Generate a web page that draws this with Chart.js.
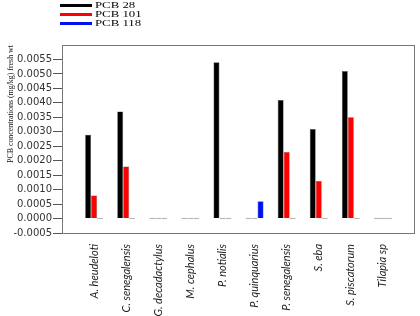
<!DOCTYPE html>
<html lang="en">
<head>
<meta charset="UTF-8">
<title>PCB concentrations</title>
<script src="https://cdn.jsdelivr.net/npm/chart.js"></script>
<style>
    body { margin: 0; background: #fff; }
    .wrap { position: relative; width: 420px; height: 316px; }
    .legend { position: absolute; left: 60px; top: 1px; font-family: "Liberation Serif", serif; font-size: 8px; }
    .legend .row { display: flex; align-items: center; height: 9px; }
    .legend .line { width: 32px; height: 3px; margin-right: 3px; }
    .legend .txt { display: inline-block; transform: scaleX(1.6); transform-origin: left center; }
</style>
</head>
<body>
<div class="wrap">
    <canvas id="pcbChart" width="420" height="316"></canvas>
    <div class="legend" id="legend"></div>
</div>
<script>
    const categories = ['A. heudeloti', 'C. senegalensis', 'G. decadactylus', 'M. cephalus', 'P. notialis',
        'P. quinquarius', 'P. senegalensis', 'S. eba', 'S. piscatorum', 'Tilapia sp'];
    const pcb28 = [0.0029, 0.0037, 0, 0, 0.0054, 0, 0.0041, 0.0031, 0.0051, 0];
    const pcb101 = [0.0008, 0.0018, 0, 0, 0, 0, 0.0023, 0.0013, 0.0035, 0];
    const pcb118 = [0, 0, 0, 0, 0, 0.0006, 0, 0, 0, 0];
    const seriesNames = ['PCB 28', 'PCB 101', 'PCB 118'];
    const seriesColors = ['#000000', '#ff0000', '#0010f0'];
    const yTickValues = [-0.0005, 0, 0.0005, 0.001, 0.0015, 0.002, 0.0025, 0.003, 0.0035, 0.004, 0.0045, 0.005, 0.0055];
    const yTitle = 'PCB concentrations (mg/kg) fresh wt';

    // legend as html, lines stacked top left
    const legend = document.getElementById('legend');
    seriesNames.forEach((name, i) => {
        const row = document.createElement('div');
        row.className = 'row';
        row.innerHTML = '<span class="line" style="background:' + seriesColors[i] + '"></span><span class="txt">' + name + '</span>';
        legend.appendChild(row);
    });

    const makeSet = (values, i) => ({
        label: seriesNames[i],
        data: values.map((v, k) => ({ x: k, y: v })),
        backgroundColor: c => (c.raw && c.raw.y === 0 ? '#a8a8a8' : seriesColors[i]),
        borderColor: c => (c.raw && c.raw.y === 0 ? '#a8a8a8' : '#555'),
        borderWidth: 0.6,
        minBarLength: 1.5,
        barPercentage: 1,
        categoryPercentage: 0.56
    });

    const framePlugin = {
        id: 'frame',
        afterDraw(chart) {
            const { ctx, chartArea: a } = chart;
            ctx.save();
            ctx.strokeStyle = '#777';
            ctx.lineWidth = 1;
            ctx.strokeRect(a.left + 0.5, a.top + 0.5, a.right - a.left - 1, a.bottom - a.top);
            // y title, drawn by hand so it sits where the original has it
            ctx.translate(11, 104);
            ctx.rotate(-Math.PI / 2);
            ctx.font = '8.5px "Liberation Serif"';
            ctx.fillStyle = '#111';
            ctx.textAlign = 'center';
            ctx.textBaseline = 'middle';
            const w = ctx.measureText(yTitle).width;
            ctx.scale(118 / w, 1);
            ctx.fillText(yTitle, 0, 0);
            ctx.restore();
        }
    };

    new Chart(document.getElementById('pcbChart'), {
        type: 'bar',
        data: {
            datasets: [makeSet(pcb28, 0), makeSet(pcb101, 1), makeSet(pcb118, 2)]
        },
        options: {
            responsive: false,
            animation: false,
            layout: { padding: { top: 45, right: 5, left: 0, bottom: 0 } },
            plugins: { legend: { display: false }, tooltip: { enabled: false } },
            scales: {
                x: {
                    type: 'linear',
                    offset: false,
                    min: -1,
                    max: 10,
                    afterBuildTicks: s => { s.ticks = categories.map((c, i) => ({ value: i })); },
                    afterFit: s => { s.height = 83; },
                    grid: { display: false },
                    border: { display: false },
                    ticks: {
                        autoSkip: false,
                        minRotation: 90,
                        maxRotation: 90,
                        padding: 3,
                        color: '#222',
                        font: { family: 'Lato', style: 'italic', size: 11 },
                        callback: v => categories[v]
                    }
                },
                y: {
                    min: -0.0005,
                    max: 0.006,
                    afterBuildTicks: s => { s.ticks = yTickValues.map(v => ({ value: v })); },
                    afterFit: s => { s.width = 62; },
                    grid: { drawOnChartArea: false, tickLength: 9, color: '#555' },
                    border: { display: true, color: '#555' },
                    ticks: {
                        padding: 1,
                        color: '#333',
                        font: { family: 'DejaVu Sans', size: 10 },
                        callback: v => v.toFixed(4)
                    }
                }
            }
        },
        plugins: [framePlugin]
    });
</script>
</body>
</html>
